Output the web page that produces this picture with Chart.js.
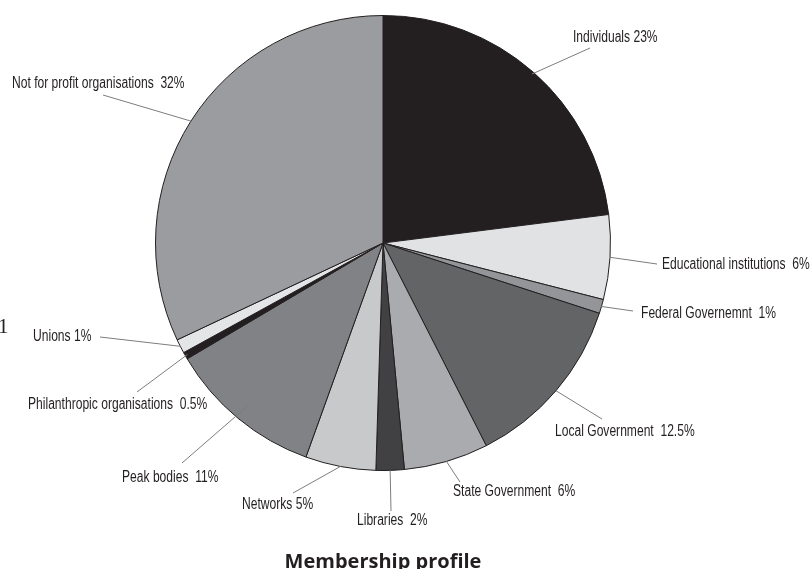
<!DOCTYPE html>
<html><head><meta charset="utf-8">
<script src="https://cdn.jsdelivr.net/npm/chart.js@4.4.1/dist/chart.umd.min.js"></script>
<style>html,body{margin:0;padding:0;background:#fff;overflow:hidden}#wrap{width:811px;height:569px;position:relative}</style>
</head><body><div id="wrap"><canvas id="c" width="811" height="569"></canvas></div>
<script>
const categories = ["Individuals","Educational institutions","Federal Governemnt","Local Government","State Government","Libraries","Networks","Peak bodies","Philanthropic organisations","Unions","Not for profit organisations"];
const shares = [23, 6, 1, 12.5, 6, 2, 5, 11, 0.5, 1, 32];
const labelTexts = ["Individuals 23%","Educational institutions  6%","Federal Governemnt  1%","Local Government  12.5%","State Government  6%","Libraries  2%","Networks 5%","Peak bodies  11%","Philanthropic organisations  0.5%","Unions 1%","Not for profit organisations  32%"];
const chartTitle = "Membership profile";

const sliceColors = ["#231f20","#e1e2e4","#939598","#636466","#a9abae","#414042","#c8c9cb","#808285","#231f20","#e4e5e7","#9b9c9f"];
// label layout: text left x / middle y, leader outer end, leader start as fraction of radius
const labelLayout = [
  {x:573,y:38,lx:590,ly:48,f:0.99},
  {x:662,y:265,lx:657,ly:264,f:1.0},
  {x:641,y:314,lx:633,ly:311,f:1.0},
  {x:555,y:432,lx:602,ly:419,f:1.0},
  {x:453,y:492,lx:460,ly:482,f:1.0},
  {x:357,y:521,lx:391,ly:511,f:1.0},
  {x:242,y:505,lx:293,ly:493,f:1.0},
  {x:122,y:478,lx:182,ly:463,f:0.92},
  {x:28,y:405,lx:137,ly:392,f:0.99},
  {x:33,y:337,lx:100,ly:337,f:1.0},
  {x:12,y:84,lx:103,ly:95,f:1.0}
];

function pickLabelFont(ctx){
  ctx.font = "16px monospace"; const a = ctx.measureText("Individuals 23%").width;
  ctx.font = "16px 'Liberation Sans Narrow', monospace"; const b = ctx.measureText("Individuals 23%").width;
  if (Math.abs(a-b) > 0.5) return {font:"16px 'Liberation Sans Narrow'", sx:0.92};
  return {font:"16px 'Liberation Sans', Arial, sans-serif", sx:0.755};
}

const labelsPlugin = {
  id:'pieLabels',
  afterDraw(chart){
    const ctx = chart.ctx;
    const meta = chart.getDatasetMeta(0);
    const lf = pickLabelFont(ctx);
    ctx.save();
    meta.data.forEach((arc,i)=>{
      const p = arc.getProps(['x','y','startAngle','endAngle','outerRadius'], true);
      const mid = (p.startAngle+p.endAngle)/2;
      const L = labelLayout[i];
      const sx = p.x + Math.cos(mid)*p.outerRadius*L.f;
      const sy = p.y + Math.sin(mid)*p.outerRadius*L.f;
      ctx.strokeStyle = '#7d7d7d'; ctx.lineWidth = 1;
      ctx.beginPath(); ctx.moveTo(sx,sy); ctx.lineTo(L.lx,L.ly); ctx.stroke();
      ctx.save();
      ctx.translate(L.x, L.y); ctx.scale(lf.sx,1);
      ctx.font = lf.font; ctx.fillStyle = '#231f20';
      ctx.textAlign = 'left'; ctx.textBaseline = 'middle';
      ctx.fillText(labelTexts[i], 0, 0);
      ctx.restore();
    });
    // title
    ctx.font = "bold 20px 'Open Sans', sans-serif";
    ctx.fillStyle = '#231f20'; ctx.textAlign='center'; ctx.textBaseline='alphabetic';
    ctx.fillText(chartTitle, 383, 568);
    // stray glyph at left edge
    ctx.font = "21px 'Liberation Serif', serif"; ctx.textAlign='left';
    ctx.fillText("1", -2, 333);
    ctx.restore();
  }
};

new Chart(document.getElementById('c'), {
  type:'pie',
  data:{labels:categories, datasets:[{data:shares, backgroundColor:sliceColors, borderColor:'#231f20', borderWidth:1, hoverOffset:0}]},
  options:{
    responsive:false, animation:false, devicePixelRatio:1,
    layout:{padding:{left:155,right:200,top:15,bottom:98}},
    plugins:{legend:{display:false}, tooltip:{enabled:false}, title:{display:false}}
  },
  plugins:[labelsPlugin]
});
</script></body></html>
